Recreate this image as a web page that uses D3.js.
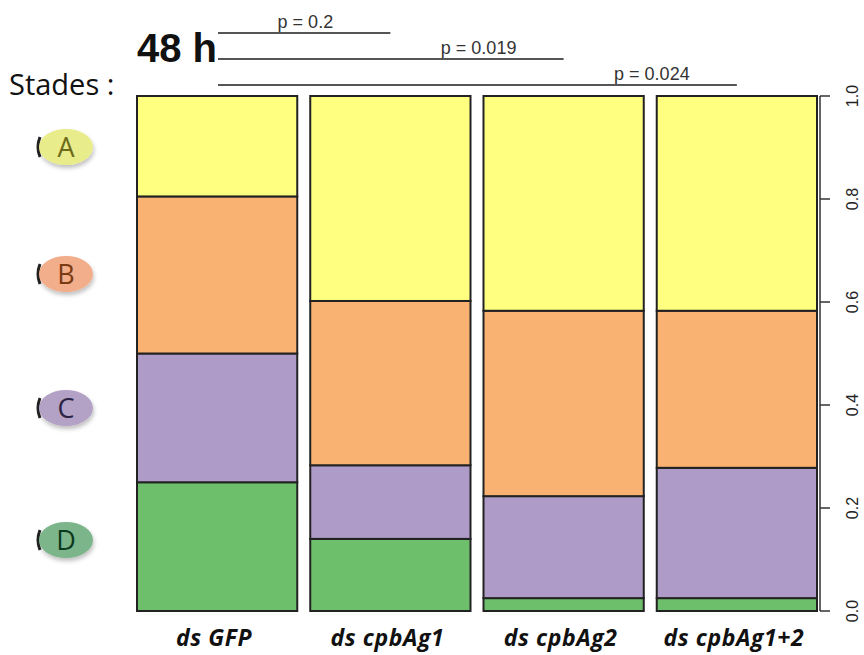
<!DOCTYPE html>
<html><head><meta charset="utf-8">
<script src="https://cdn.jsdelivr.net/npm/d3@7"></script>
<style>body{margin:0;background:#fff}svg{display:block}</style>
</head><body>
<svg id="c" width="864" height="655"></svg>
<script>
const categories = ["ds GFP", "ds cpbAg1", "ds cpbAg2", "ds cpbAg1+2"];
const stages = ["D", "C", "B", "A"];
const stageA = [0.195, 0.398, 0.417, 0.417];
const stageB = [0.305, 0.319, 0.360, 0.305];
const stageC = [0.250, 0.143, 0.198, 0.253];
const stageD = [0.250, 0.140, 0.025, 0.025];
const yTicks = [0, 0.2, 0.4, 0.6, 0.8, 1.0];
const pValues = ["p = 0.2", "p = 0.019", "p = 0.024"];
const pTargets = ["ds cpbAg1", "ds cpbAg2", "ds cpbAg1+2"];
const title = "48 h";
const legendTitle = "Stades :";

const colors = {A:"#ffff80", B:"#f9b271", C:"#ae9bc8", D:"#6dbf6b"};
const legendFill = {A:"#e9ec8a", B:"#f2ad8a", C:"#b4a2c6", D:"#7bb58a"};
const legendText = {A:"#6e6a1c", B:"#7a3a12", C:"#2c2245", D:"#0c3a1c"};

const svg = d3.select("#c");
const x = d3.scaleBand().domain(categories).range([137, 817]).paddingInner(0.075).paddingOuter(0);
const y = d3.scaleLinear().domain([0, 1]).range([611, 96]);

const rows = categories.map((c, i) => ({cat: c, D: stageD[i], C: stageC[i], B: stageB[i], A: stageA[i]}));
const series = d3.stack().keys(stages)(rows);

svg.append("g").selectAll("g").data(series).join("g")
  .attr("fill", d => colors[d.key])
  .selectAll("rect").data(d => d).join("rect")
  .attr("x", d => x(d.data.cat))
  .attr("width", x.bandwidth())
  .attr("y", d => y(d[1]))
  .attr("height", d => y(d[0]) - y(d[1]))
  .attr("stroke", "#222")
  .attr("stroke-width", 2);

// right axis
const ax = svg.append("g").attr("transform", "translate(820,0)");
ax.append("line").attr("x1", 0).attr("x2", 0).attr("y1", y(0)).attr("y2", y(1)).attr("stroke", "#333").attr("stroke-width", 1.5);
ax.selectAll("line.t").data(yTicks).join("line").attr("class","t")
  .attr("x1", 0).attr("x2", 10).attr("y1", d => y(d)).attr("y2", d => y(d)).attr("stroke", "#333").attr("stroke-width", 1.5);
ax.selectAll("text").data(yTicks).join("text")
  .attr("transform", d => `translate(38,${y(d)}) rotate(-90)`)
  .attr("text-anchor", "middle")
  .attr("font-family", "Liberation Sans, Arial, sans-serif")
  .attr("font-size", 16).attr("fill", "#222")
  .text(d => d3.format(".1f")(d));

// x labels
svg.append("g").selectAll("text").data(categories).join("text")
  .attr("x", d => x(d) + x.bandwidth()/2 - 3)
  .attr("y", 646)
  .attr("text-anchor", "middle")
  .attr("font-family", "Open Sans, sans-serif")
  .attr("font-weight", "bold").attr("font-style", "italic")
  .attr("font-size", 23).attr("letter-spacing", 0.6).attr("fill", "#111")
  .text(d => d);

// title
svg.append("text").attr("x", 137).attr("y", 62)
  .attr("font-family", "Liberation Sans, Arial, sans-serif")
  .attr("font-weight", "bold").attr("font-size", 40).attr("fill", "#111")
  .text(title);

// p-value brackets
const lineStart = 218;
const pEnds = pTargets.map(t => x(t) + x.bandwidth()/2);
const pY = [33, 59, 85];
const pg = svg.append("g");
pValues.forEach((p, i) => {
  pg.append("line").attr("x1", lineStart).attr("x2", pEnds[i]).attr("y1", pY[i]).attr("y2", pY[i])
    .attr("stroke", "#555").attr("stroke-width", 2);
  pg.append("text").attr("x", pEnds[i] - 85).attr("y", pY[i] - 5)
    .attr("text-anchor", "middle")
    .attr("font-family", "Liberation Sans, Arial, sans-serif")
    .attr("font-size", 18).attr("fill", "#333")
    .text(p);
});

// legend
svg.append("text").attr("x", 9).attr("y", 95)
  .attr("font-family", "Open Sans, sans-serif").attr("font-size", 29).attr("fill", "#111")
  .text(legendTitle);
const defs = svg.append("defs");
const f = defs.append("filter").attr("id", "sh").attr("x", "-30%").attr("y", "-30%").attr("width", "160%").attr("height", "170%");
f.append("feDropShadow").attr("dx", 1).attr("dy", 3).attr("stdDeviation", 2).attr("flood-color", "#000").attr("flood-opacity", 0.25);
const legendY = {A:147, B:274, C:408, D:540};
const lg = svg.append("g");
["A","B","C","D"].forEach(k => {
  lg.append("path").attr("d", `M40,${legendY[k]-10} Q36,${legendY[k]} 40,${legendY[k]+10}`)
    .attr("stroke", "#222").attr("stroke-width", 3).attr("fill", "none");
  lg.append("ellipse").attr("cx", 66).attr("cy", legendY[k]).attr("rx", 27).attr("ry", 18)
    .attr("fill", legendFill[k]).attr("filter", "url(#sh)");
  lg.append("text").attr("x", 66).attr("y", legendY[k] + 10).attr("text-anchor", "middle")
    .attr("font-family", "Open Sans, sans-serif").attr("font-size", 27).attr("fill", legendText[k])
    .text(k);
});
</script>
</body></html>
